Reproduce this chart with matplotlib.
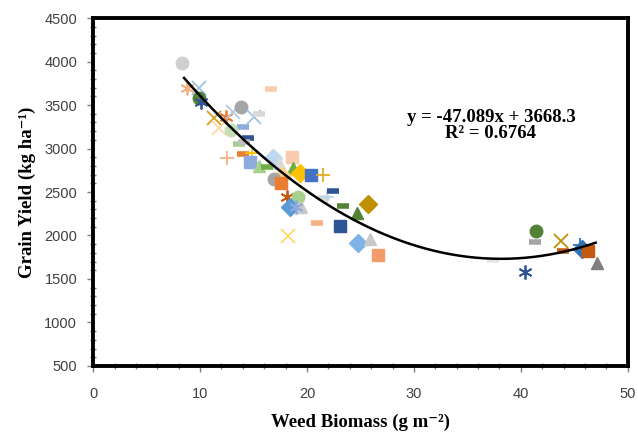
import numpy as np
import matplotlib
matplotlib.use("Agg")
import matplotlib.pyplot as plt
from matplotlib.ticker import MultipleLocator

# weed biomass (g m-2), grain yield (kg ha-1), marker, colour
biomass = [8.3, 8.8, 9.9, 9.9, 10.1, 11.3, 12.4, 13.1, 13.8, 14.0,
           15.0, 15.5, 16.6, 11.8, 12.9, 14.5, 13.6, 14.1, 12.5, 14.0,
           14.9, 14.7, 15.5, 16.8, 16.3, 17.4, 18.6, 18.7, 19.3, 17.7,
           20.4, 21.5, 16.9, 17.6, 18.1, 19.2, 21.6, 21.9, 22.4, 18.4,
           19.4, 19.0, 23.4, 25.7, 24.7, 23.1, 20.9, 18.2, 24.8, 25.9,
           26.6, 37.4, 41.4, 41.3, 43.8, 43.9, 45.7, 45.5, 46.3, 47.1,
           40.4]
grain_yield = [3980, 3700, 3700, 3580, 3540, 3350, 3360, 3420, 3477, 3250,
               3360, 3397, 3684, 3236, 3213, 3120, 3052, 3075, 2890, 2937,
               2949, 2845, 2800, 2890, 2788, 2834, 2903, 2777, 2719, 2690,
               2696, 2696, 2650, 2604, 2443, 2443, 2430, 2443, 2512, 2330,
               2330, 2330, 2340, 2363, 2260, 2110, 2145, 1995, 1915, 1960,
               1777, 1720, 2053, 1926, 1938, 1823, 1840, 1892, 1823, 1685,
               1582]
ast = (6, 2, 0)
markers = ['o', ast, 'x', 'o', ast, 'x', ast, 'x', 'o', '_',
           'x', '_', '_', 'x', 'o', '_', '_', '_', '+', '_',
           '+', 's', '^', 'D', '_', '^', 's', '^', 'D', 'D',
           's', '+', 'o', 's', ast, 'o', '_', '+', '_', 'D',
           '^', ast, '_', 'D', '^', 's', '_', 'x', 'D', '^',
           's', '_', 'o', '_', 'x', '_', 'D', '+', 's', '^',
           ast]
colors = ['#D0D0D0', '#F4B183', '#9DC3E6', '#548235', '#2F5597', '#D6A11E', '#ED7D31', '#B4C7E7', '#A5A5A5', '#8FAADC',
          '#9DC3E6', '#D9D9D9', '#F8CBAD', '#FFD7A8', '#C5E0B4', '#2F5597', '#A9D18E', '#BFBFBF', '#F4B183', '#ED7D31',
          '#FFC000', '#8FAADC', '#A9D18E', '#BDD7EE', '#70AD47', '#D9D9D9', '#F8CBAD', '#70AD47', '#FFC000', '#FFD08A',
          '#4472C4', '#E0AE2A', '#A5A5A5', '#ED7D31', '#C55A11', '#A9D18E', '#D9D9D9', '#BDD7EE', '#2F5597', '#5B9BD5',
          '#C9C9C9', '#8FAADC', '#548235', '#BF9000', '#548235', '#2F5597', '#F4B183', '#FFD966', '#7FB2E5', '#C9C9C9',
          '#F19C6B', '#E7E6E6', '#548235', '#A5A5A5', '#BF9000', '#C55A11', '#2E75B6', '#2E75B6', '#C55A11', '#7F7F7F',
          '#2F5597']

fig = plt.figure(figsize=(6.38, 4.33), dpi=100)
ax = fig.add_axes([0.146, 0.155, 0.838, 0.803])

for xv, yv, m, c in zip(biomass, grain_yield, markers, colors):
    if m == '_':
        ax.plot(xv, yv, marker=m, color=c, ms=8, mew=4, ls='none')
    elif m in ('x', '+') or m == ast:
        ax.plot(xv, yv, marker=m, color=c, ms=10, mew=1.3, ls='none')
    else:
        ax.plot(xv, yv, marker=m, color=c, ms=9, mec=c, ls='none')

# polynomial trendline
coef = np.polyfit(biomass, grain_yield, 2)
xs = np.linspace(8.5, 47, 200)
ax.plot(xs, np.polyval(coef, xs), color='black', lw=1.8)

ax.text(0.744, 0.692, 'y = -47.089x + 3668.3\nR\u00b2 = 0.6764', transform=ax.transAxes,
        ha='center', va='center', fontsize=13.5, fontweight='bold', family='Liberation Serif',
        linespacing=0.95)

ax.set_xlim(0, 50)
ax.set_ylim(500, 4500)
ax.xaxis.set_major_locator(MultipleLocator(10))
ax.xaxis.set_minor_locator(MultipleLocator(2))
ax.yaxis.set_major_locator(MultipleLocator(500))
ax.yaxis.set_minor_locator(MultipleLocator(100))
ax.tick_params(which='major', direction='out', length=4, width=1, color='#7F7F7F',
               labelsize=10.5, labelcolor='#404040')
ax.tick_params(axis='x', which='major', pad=11)
ax.tick_params(axis='y', which='major', pad=7.5)
ax.tick_params(which='minor', direction='inout', length=5, width=1, color='#7F7F7F')
for lab in ax.get_xticklabels() + ax.get_yticklabels():
    lab.set_family('Liberation Sans')
for s in ax.spines.values():
    s.set_linewidth(2.8)
    s.set_color('black')

ax.set_xlabel('Weed Biomass (g m\u207b\u00b2)', fontsize=13.5, fontweight='bold',
              family=['Liberation Serif', 'DejaVu Serif'], labelpad=9)
ax.set_ylabel('Grain Yield (kg ha\u207b\u00b9)', fontsize=13.5, fontweight='bold',
              family=['Liberation Serif', 'DejaVu Serif'], labelpad=6)

fig.savefig('out.png', dpi=100)
